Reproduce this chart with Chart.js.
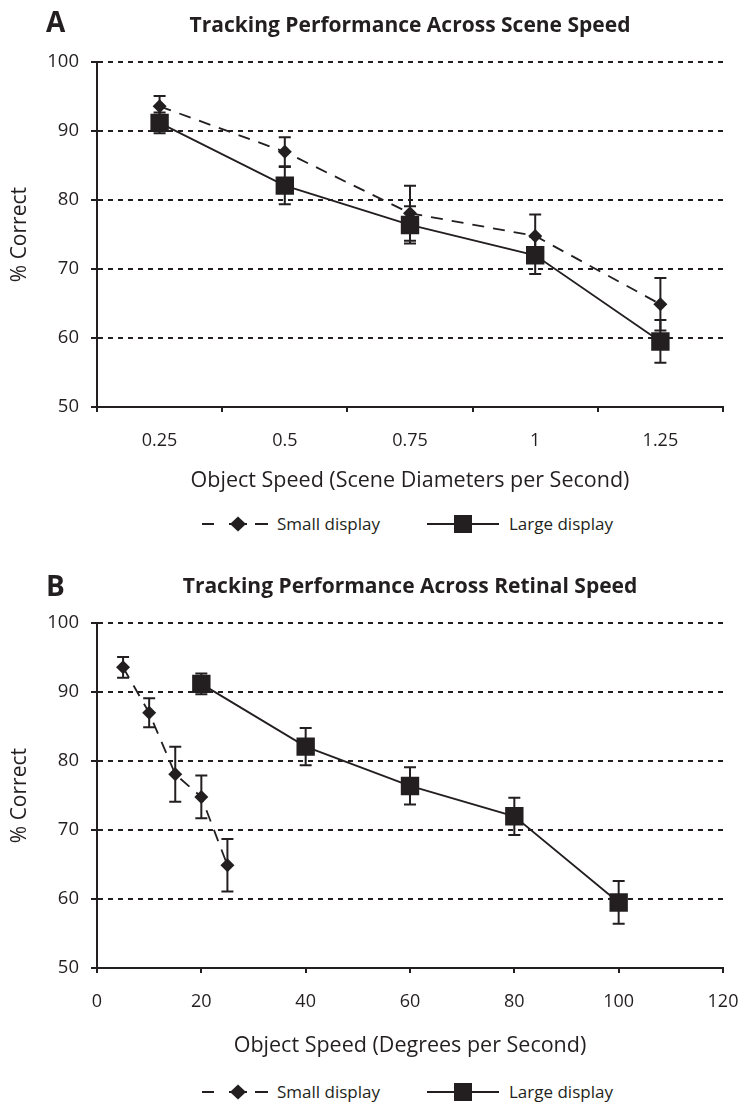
<!DOCTYPE html>
<html>
<head>
<meta charset="utf-8">
<script src="https://cdn.jsdelivr.net/npm/chart.js@4.4.1/dist/chart.umd.min.js"></script>
<style>
  body { margin: 0; background: #fff; font-family: "Open Sans", sans-serif; color: #231f20; }
  #page { position: relative; width: 741px; height: 1103px; overflow: hidden; }
  .panel { position: absolute; left: 0; width: 741px; height: 502px; }
  .letter { position: absolute; left: 46px; font-size: 28px; line-height: 28px; font-weight: bold; }
  .leg { position: absolute; font-size: 17px; line-height: 18px; white-space: nowrap; }
  .leg svg { position: absolute; top: 0; }
</style>
</head>
<body>
<div id="page">
  <div class="panel" style="top:0"><canvas id="chartA" width="741" height="502"></canvas></div>
  <div class="panel" style="top:561px"><canvas id="chartB" width="741" height="502"></canvas></div>
  <div class="letter" style="top:7px">A</div>
  <div class="letter" style="top:571px">B</div>
  <div id="legA"></div>
  <div id="legB"></div>
</div>
<script>
// values
const sceneSpeeds = ["0.25", "0.5", "0.75", "1", "1.25"];
const smallRetinal = [5, 10, 15, 20, 25];
const largeRetinal = [20, 40, 60, 80, 100];
const smallCorrect = [93.6, 87.0, 78.1, 74.8, 64.9];
const smallErr = [1.5, 2.1, 4.0, 3.1, 3.8];
const largeCorrect = [91.2, 82.1, 76.4, 72.0, 59.5];
const largeErr = [1.5, 2.7, 2.7, 2.7, 3.1];
const seriesNames = ["Small display", "Large display"];

const INK = "#231f20";
const FONT = "'Open Sans', sans-serif";

//Error bars drawn through the chart's own scales
const errorBars = {
  id: "errorBars",
  beforeDatasetsDraw: (chart) => {
    const ctx = chart.ctx;
    const yScale = chart.scales.y;
    chart.data.datasets.forEach((ds, i) => {
      const meta = chart.getDatasetMeta(i);
      meta.data.forEach((pt, j) => {
        const v = meta.controller.getParsed(j).y;
        const top = yScale.getPixelForValue(v + ds.errors[j]);
        const bot = yScale.getPixelForValue(v - ds.errors[j]);
        ctx.save();
        ctx.strokeStyle = INK;
        ctx.lineWidth = 2;
        ctx.beginPath();
        ctx.moveTo(pt.x, top);
        ctx.lineTo(pt.x, bot);
        ctx.moveTo(pt.x - 6, top);
        ctx.lineTo(pt.x + 6, top);
        ctx.moveTo(pt.x - 6, bot);
        ctx.lineTo(pt.x + 6, bot);
        ctx.stroke();
        ctx.restore();
      });
    });
  },
};

const makeDatasets = (smallData, largeData) => [
  {
    label: seriesNames[0],
    data: smallData,
    errors: smallErr,
    borderColor: INK,
    backgroundColor: INK,
    borderWidth: 1.8,
    borderDash: [12, 9],
    pointStyle: "rectRot",
    pointRadius: 7,
    pointBorderWidth: 0,
    order: 1,
  },
  {
    label: seriesNames[1],
    data: largeData,
    errors: largeErr,
    borderColor: INK,
    backgroundColor: INK,
    borderWidth: 1.8,
    pointStyle: "rect",
    pointRadius: 13,
    pointBorderWidth: 0,
    order: 0,
  },
];

const makeOptions = (titleText, xTitle, xType, isCategory, xTitlePad) => ({
  responsive: false,
  animation: false,
  events: [],
  layout: { padding: { left: 0, right: 18, top: 0, bottom: 0 } },
  plugins: {
    legend: { display: false },
    tooltip: { enabled: false },
    title: {
      display: true,
      text: titleText,
      fullSize: false,
      color: INK,
      font: { family: FONT, size: 21, weight: "bold", lineHeight: 1.2 },
      padding: { top: 13, bottom: 24 },
    },
  },
  scales: {
    x: {
      type: xType,
      offset: isCategory,
      min: isCategory ? undefined : 0,
      max: isCategory ? undefined : 120,
      afterFit: (scale) => {
        scale.height = 95;
        scale.paddingLeft = 0;
        scale.paddingRight = 0;
      },
      title: {
        display: true,
        text: xTitle,
        color: INK,
        font: { family: FONT, size: 21.5, lineHeight: 1.2 },
        padding: { top: 0, bottom: xTitlePad },
      },
      ticks: {
        stepSize: 20,
        color: INK,
        font: { family: FONT, size: 18, lineHeight: 1.2 },
        padding: 18,
        maxRotation: 0,
      },
      grid: {
        offset: isCategory,
        drawOnChartArea: false,
        drawTicks: true,
        tickLength: 5,
        color: INK,
        lineWidth: 2,
        tickBorderDash: [],
      },
      border: { display: true, color: INK, width: 2 },
    },
    y: {
      min: 50,
      max: 100,
      afterFit: (scale) => {
        scale.width = 97;
      },
      ticks: {
        stepSize: 10,
        color: INK,
        font: { family: FONT, size: 18.5 },
        padding: 12,
      },
      title: {
        display: true,
        text: "% Correct",
        color: INK,
        font: { family: FONT, size: 21, lineHeight: 1.2 },
        padding: { top: 7, bottom: 0 },
      },
      grid: {
        color: INK,
        lineWidth: 2,
        tickLength: 6,
        tickBorderDash: [],
      },
      border: { display: true, color: INK, width: 2, dash: [5, 5] },
    },
  },
});

//Panel A: scene speed, categories
const chartA = new Chart(document.getElementById("chartA").getContext("2d"), {
  type: "line",
  data: {
    labels: sceneSpeeds,
    datasets: makeDatasets(smallCorrect, largeCorrect),
  },
  options: makeOptions(
    "Tracking Performance Across Scene Speed",
    "Object Speed (Scene Diameters per Second)",
    "category",
    true,
    8
  ),
  plugins: [errorBars],
});

//Panel B: retinal speed, linear x
const chartB = new Chart(document.getElementById("chartB").getContext("2d"), {
  type: "line",
  data: {
    datasets: makeDatasets(
      smallRetinal.map((x, i) => ({ x: x, y: smallCorrect[i] })),
      largeRetinal.map((x, i) => ({ x: x, y: largeCorrect[i] }))
    ),
  },
  options: makeOptions(
    "Tracking Performance Across Retinal Speed",
    "Object Speed (Degrees per Second)",
    "linear",
    false,
    4
  ),
  plugins: [errorBars],
});

//HTML legend under each panel
const smallGlyph =
  '<svg width="70" height="18"><g stroke="' + INK + '" stroke-width="2">' +
  '<line x1="0" y1="9" x2="12" y2="9"/><line x1="27" y1="9" x2="45" y2="9"/>' +
  '<line x1="53" y1="9" x2="66" y2="9"/></g>' +
  '<polygon points="36,1.5 44,9 36,16.5 28,9" fill="' + INK + '"/></svg>';
const largeGlyph =
  '<svg width="74" height="18"><line x1="0" y1="9" x2="72" y2="9" stroke="' + INK + '" stroke-width="2"/>' +
  '<rect x="27" y="0" width="18" height="18" fill="' + INK + '"/></svg>';

const buildLegend = (el, centerY) => {
  const top = centerY - 9;
  el.innerHTML =
    '<div class="leg" style="left:202px;top:' + top + 'px">' + smallGlyph + "</div>" +
    '<div class="leg" style="left:277px;top:' + top + 'px">' + seriesNames[0] + "</div>" +
    '<div class="leg" style="left:427px;top:' + top + 'px">' + largeGlyph + "</div>" +
    '<div class="leg" style="left:509px;top:' + top + 'px">' + seriesNames[1] + "</div>";
};
buildLegend(document.getElementById("legA"), 524);
buildLegend(document.getElementById("legB"), 1092);
</script>
</body>
</html>
